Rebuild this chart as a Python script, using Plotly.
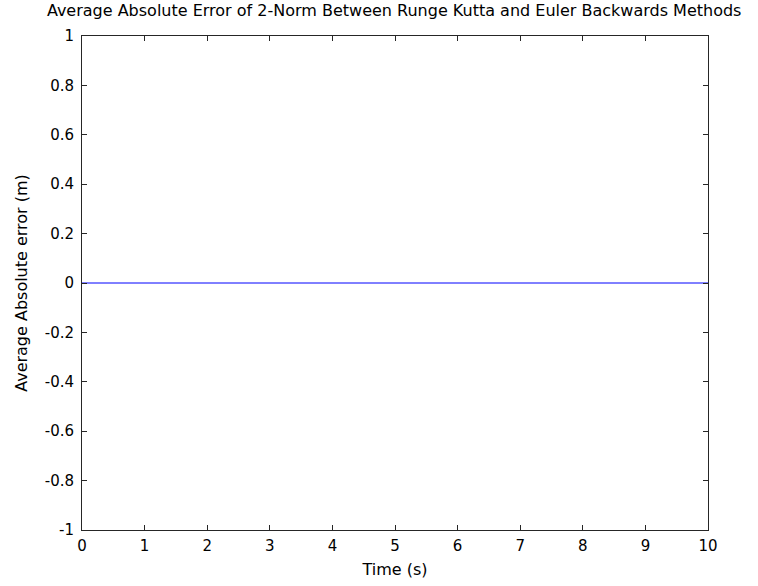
import plotly.graph_objects as go

# Time samples and the averaged absolute error of the 2-norm
time_s = [0, 1, 2, 3, 4, 5, 6, 7, 8, 9, 10]
avg_abs_error = [0, 0, 0, 0, 0, 0, 0, 0, 0, 0, 0]

x_ticks = [0, 1, 2, 3, 4, 5, 6, 7, 8, 9, 10]
y_ticks = [-1, -0.8, -0.6, -0.4, -0.2, 0, 0.2, 0.4, 0.6, 0.8, 1]
y_tick_text = ["-1", "-0.8", "-0.6", "-0.4", "-0.2", "0", "0.2", "0.4", "0.6", "0.8", "1"]

font_family = "DejaVu Sans, Arial, sans-serif"
axis_color = "#262626"
tick_font = dict(family=font_family, size=15, color="#000000")
label_font = dict(family=font_family, size=16, color="#000000")

fig = go.Figure()
fig.add_trace(go.Scatter(
    x=time_s, y=avg_abs_error, mode="lines",
    line=dict(color="#0000ff", width=1),
    showlegend=False,
))

axis_common = dict(
    showgrid=False, zeroline=False,
    showline=True, linecolor=axis_color, linewidth=1, mirror="ticks",
    ticks="inside", ticklen=5, tickcolor=axis_color, tickwidth=1,
    tickfont=tick_font,
)

fig.update_layout(
    width=758, height=586,
    margin=dict(l=82, r=50, t=36, b=56),
    paper_bgcolor="#ffffff", plot_bgcolor="#ffffff",
    title=dict(
        text="Average Absolute Error of 2-Norm Between Runge Kutta and Euler Backwards Methods",
        x=0.52, xanchor="center", y=0.982, yanchor="middle",
        font=label_font,
    ),
    xaxis=dict(
        range=[0, 10], tickmode="array", tickvals=x_ticks,
        ticktext=[str(t) for t in x_ticks],
        ticklabelstandoff=2,
        title=dict(text="Time (s)", standoff=9, font=label_font),
        **axis_common,
    ),
    yaxis=dict(
        range=[-1, 1], tickmode="array", tickvals=y_ticks, ticktext=y_tick_text,
        ticklabelstandoff=4,
        title=dict(text="Average Absolute error (m)", standoff=13, font=label_font),
        **axis_common,
    ),
)

fig.write_html("out.html")
